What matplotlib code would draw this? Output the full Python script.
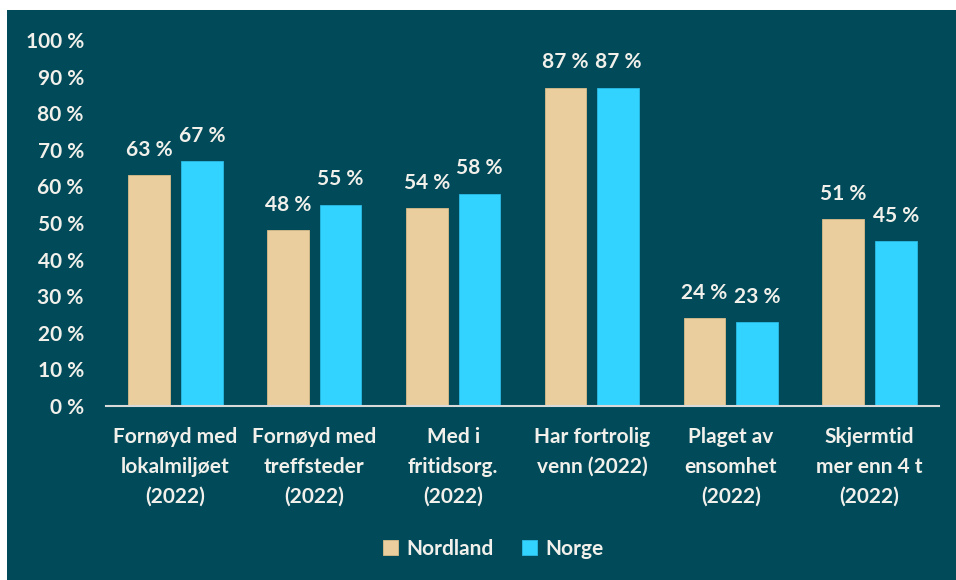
import matplotlib

matplotlib.use("Agg")
import matplotlib.pyplot as plt
import numpy as np
from matplotlib.patches import Rectangle


CATEGORIES = [
    "Fornøyd med\nlokalmiljøet\n(2022)",
    "Fornøyd med\ntreffsteder\n(2022)",
    "Med i\nfritidsorg.\n(2022)",
    "Har fortrolig\nvenn (2022)",
    "Plaget av\nensomhet\n(2022)",
    "Skjermtid\nmer enn 4 t\n(2022)",
]
NORDLAND = [63, 48, 54, 87, 24, 51]
NORGE = [67, 55, 58, 87, 23, 45]
SERIES = ["Nordland", "Norge"]
Y_TICKS = list(range(0, 101, 10))

BG = "#004A5A"
TAN = "#EACE9E"
CYAN = "#33D3FF"
TXT = "#F2F0EA"
FONT = "Lato"


def main() -> None:
    plt.rcParams.update({"font.family": FONT, "font.weight": "bold", "font.size": 15})

    fig = plt.figure(figsize=(9.56, 5.8), dpi=100, facecolor="white")
    fig.patches.append(
        Rectangle((7 / 956, 0), 1, 1 - 10 / 580, transform=fig.transFigure,
                  facecolor=BG, edgecolor="none", zorder=-10)
    )
    ax = fig.add_axes([106 / 956, 174 / 580, 833 / 956, 366 / 580])
    ax.set_facecolor("none")

    x = np.arange(len(CATEGORIES))
    width = 0.30
    off = 0.19
    b1 = ax.bar(x - off, NORDLAND, width, color=TAN, edgecolor="#D9BC88", linewidth=0.6, label=SERIES[0])
    b2 = ax.bar(x + off, NORGE, width, color=CYAN, edgecolor="#2CBBE6", linewidth=0.6, label=SERIES[1])

    for bars, vals in ((b1, NORDLAND), (b2, NORGE)):
        for bar, v in zip(bars, vals):
            ax.annotate(f"{v} %", (bar.get_x() + bar.get_width() / 2, v),
                        xytext=(0, 11), textcoords="offset points",
                        ha="center", va="bottom", color=TXT, fontweight="bold")

    ax.set_xlim(-0.5, len(CATEGORIES) - 0.5)
    ax.set_ylim(0, 100)
    ax.set_yticks(Y_TICKS, [f"{t} %" for t in Y_TICKS], color=TXT)
    ax.set_xticks(x, CATEGORIES, color=TXT, linespacing=1.62)
    ax.tick_params(axis="y", length=0, pad=16)
    ax.tick_params(axis="x", length=0, pad=15)

    for name, spine in ax.spines.items():
        spine.set_visible(name == "bottom")
    ax.spines["bottom"].set_color("#D9D9D9")
    ax.spines["bottom"].set_linewidth(1.5)

    leg = fig.legend(loc="center", bbox_to_anchor=(0.516, 0.054), ncol=2, frameon=False,
                     handlelength=0.7, handleheight=0.7, handletextpad=0.4, columnspacing=1.4)
    for t in leg.get_texts():
        t.set_color(TXT)

    fig.savefig("out.png", dpi=100, facecolor="white")
    plt.close(fig)


if __name__ == "__main__":
    main()
